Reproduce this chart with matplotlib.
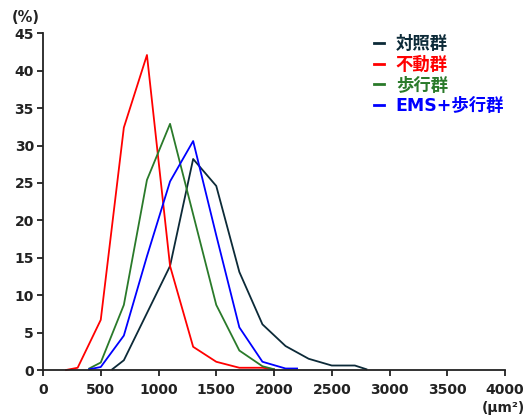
import matplotlib
matplotlib.use("Agg")
import matplotlib.pyplot as plt

# ---- data ----
ctrl_x = [600, 700, 900, 1100, 1300, 1500, 1700, 1900, 2100, 2300, 2500, 2700, 2800]
ctrl_y = [0.1, 1.3, 7.6, 13.9, 28.2, 24.6, 13.1, 6.1, 3.2, 1.5, 0.6, 0.6, 0.1]

immob_x = [200, 300, 500, 700, 900, 1100, 1300, 1500, 1700, 1900, 2000]
immob_y = [0.0, 0.3, 6.7, 32.4, 42.1, 13.9, 3.1, 1.1, 0.3, 0.3, 0.1]

walk_x = [400, 500, 700, 900, 1100, 1300, 1500, 1700, 1900, 2000]
walk_y = [0.2, 1.0, 8.7, 25.4, 32.9, 20.8, 8.7, 2.6, 0.5, 0.1]

ems_x = [400, 500, 700, 900, 1100, 1300, 1500, 1700, 1900, 2100, 2200]
ems_y = [0.1, 0.4, 4.6, 15.2, 25.2, 30.6, 18.0, 5.7, 1.1, 0.2, 0.2]

labels = ["対照群", "不動群", "歩行群", "EMS+歩行群"]
colors = ["#0c2a38", "#ff0000", "#2a7a2a", "#0000ff"]

x_ticks = [0, 500, 1000, 1500, 2000, 2500, 3000, 3500, 4000]
y_ticks = [0, 5, 10, 15, 20, 25, 30, 35, 40, 45]

plt.rcParams['font.family'] = ['DejaVu Sans', 'Noto Sans CJK JP']

fig = plt.figure(figsize=(5.26, 4.18), dpi=100)
ax = fig.add_axes([43/526, 48/418, (505-43)/526, (370-33.3)/418])

series = [(ctrl_x, ctrl_y), (immob_x, immob_y), (walk_x, walk_y), (ems_x, ems_y)]
handles = []
for (xs, ys), lab, c in zip(series, labels, colors):
    h, = ax.plot(xs, ys, color=c, lw=1.3, label=lab, clip_on=False)
    handles.append(h)

ax.set_xlim(0, 4000)
ax.set_ylim(0, 45)
ax.set_xticks(x_ticks)
ax.set_yticks(y_ticks)
ax.spines['top'].set_visible(False)
ax.spines['right'].set_visible(False)
for s in ['left', 'bottom']:
    ax.spines[s].set_linewidth(1.3)
    ax.spines[s].set_color('#222222')
ax.tick_params(direction='out', length=4, width=1.3, colors='#222222',
               labelsize=10, labelcolor='#222222')
ax.tick_params(axis='x', pad=5.5)
ax.tick_params(axis='y', pad=2.5)
for t in ax.get_xticklabels() + ax.get_yticklabels():
    t.set_fontweight('bold')

fig.text(26/526, 1 - 17/418, "(%)", ha='center', va='center',
         fontsize=10.5, fontweight='bold', color='#222222')
fig.text(525/526, 1 - 408/418, "(μm²)", ha='right', va='center',
         fontsize=10, fontweight='bold', color='#222222')

leg = ax.legend(handles=handles, loc='upper left',
                bbox_to_anchor=(374/526, 1 - 35/418), bbox_transform=fig.transFigure,
                frameon=False, borderpad=0, borderaxespad=0,
                handlelength=0.6, handletextpad=0.65, labelspacing=0.16,
                labelcolor='linecolor',
                prop={'family': ['DejaVu Sans', 'Noto Sans CJK JP'],
                      'weight': 'bold', 'size': 12.5})
for line in leg.get_lines():
    line.set_linewidth(2)

fig.savefig("out.png", dpi=100)
